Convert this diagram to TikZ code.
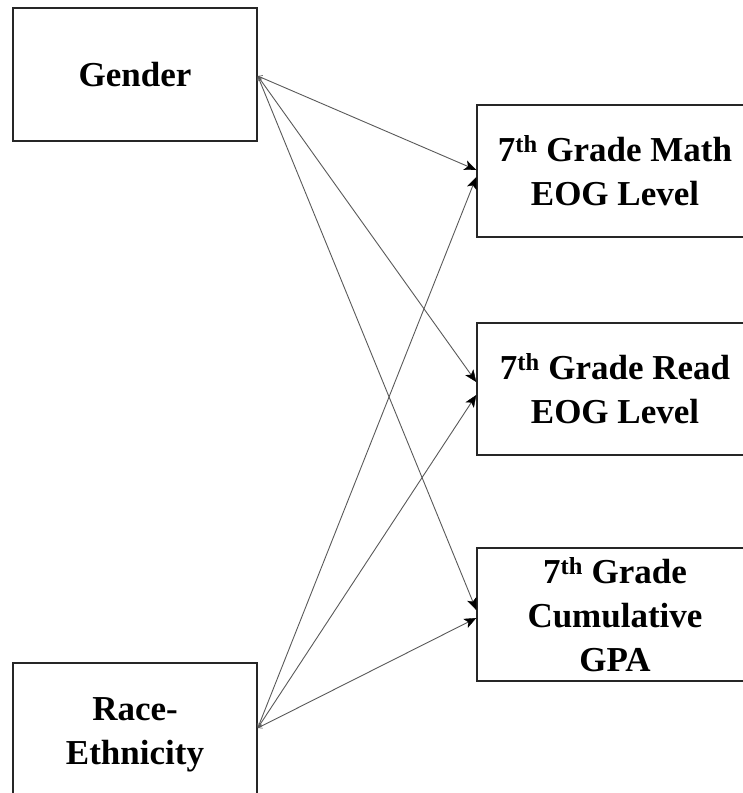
\documentclass[tikz,border=0pt]{standalone}
\usepackage{fontspec}
\setmainfont{Liberation Serif}
\usetikzlibrary{arrows.meta}
\begin{document}
\begin{tikzpicture}[x=1pt,y=-1pt,
  varbox/.style={draw=black!85,line width=1.5pt,fill=white,align=center,
    inner sep=0pt,font=\fontsize{35}{44}\selectfont\bfseries},
  leftbox/.style={varbox,minimum width=244pt},
  rightbox/.style={varbox,minimum width=276pt},
  path/.style={draw=black!65,line width=0.9pt,
    {Straight Barb[length=4pt,width=5pt,line width=0.6pt]}-{Stealth[length=12pt,width=10pt,inset=3pt,color=black,line width=0.4pt]}}]
\useasboundingbox (0,0) rectangle (743,793);
\begin{scope}
\clip (0,0) rectangle (743,793);
% predictors
\node[leftbox,minimum height=133pt] (gender) at (135,74.5) {Gender};
\node[leftbox,minimum height=144pt] (race) at (135,735) {Race-\\Ethnicity};
% outcomes
\node[rightbox,minimum height=132pt] (math) at (615,171) {7\textsuperscript{th} Grade Math\\EOG Level};
\node[rightbox,minimum height=132pt] (read) at (615,389) {7\textsuperscript{th} Grade Read\\EOG Level};
\node[rightbox,minimum height=133pt] (gpa) at (615,614.5) {7\textsuperscript{th} Grade\\Cumulative\\GPA};
% paths from gender
\draw[path] ([yshift=-1.5pt]gender.east) -- ([yshift=1pt]math.west);
\draw[path] ([yshift=-1.5pt]gender.east) -- ([yshift=7pt]read.west);
\draw[path] ([yshift=-1.5pt]gender.east) -- ([yshift=4.5pt]gpa.west);
% paths from race-ethnicity
\draw[path] ([yshift=7pt]race.east) -- ([yshift=-6pt]math.west);
\draw[path] ([yshift=7pt]race.east) -- ([yshift=-6pt]read.west);
\draw[path] ([yshift=7pt]race.east) -- ([yshift=-3.5pt]gpa.west);
\end{scope}
\end{tikzpicture}
\end{document}
